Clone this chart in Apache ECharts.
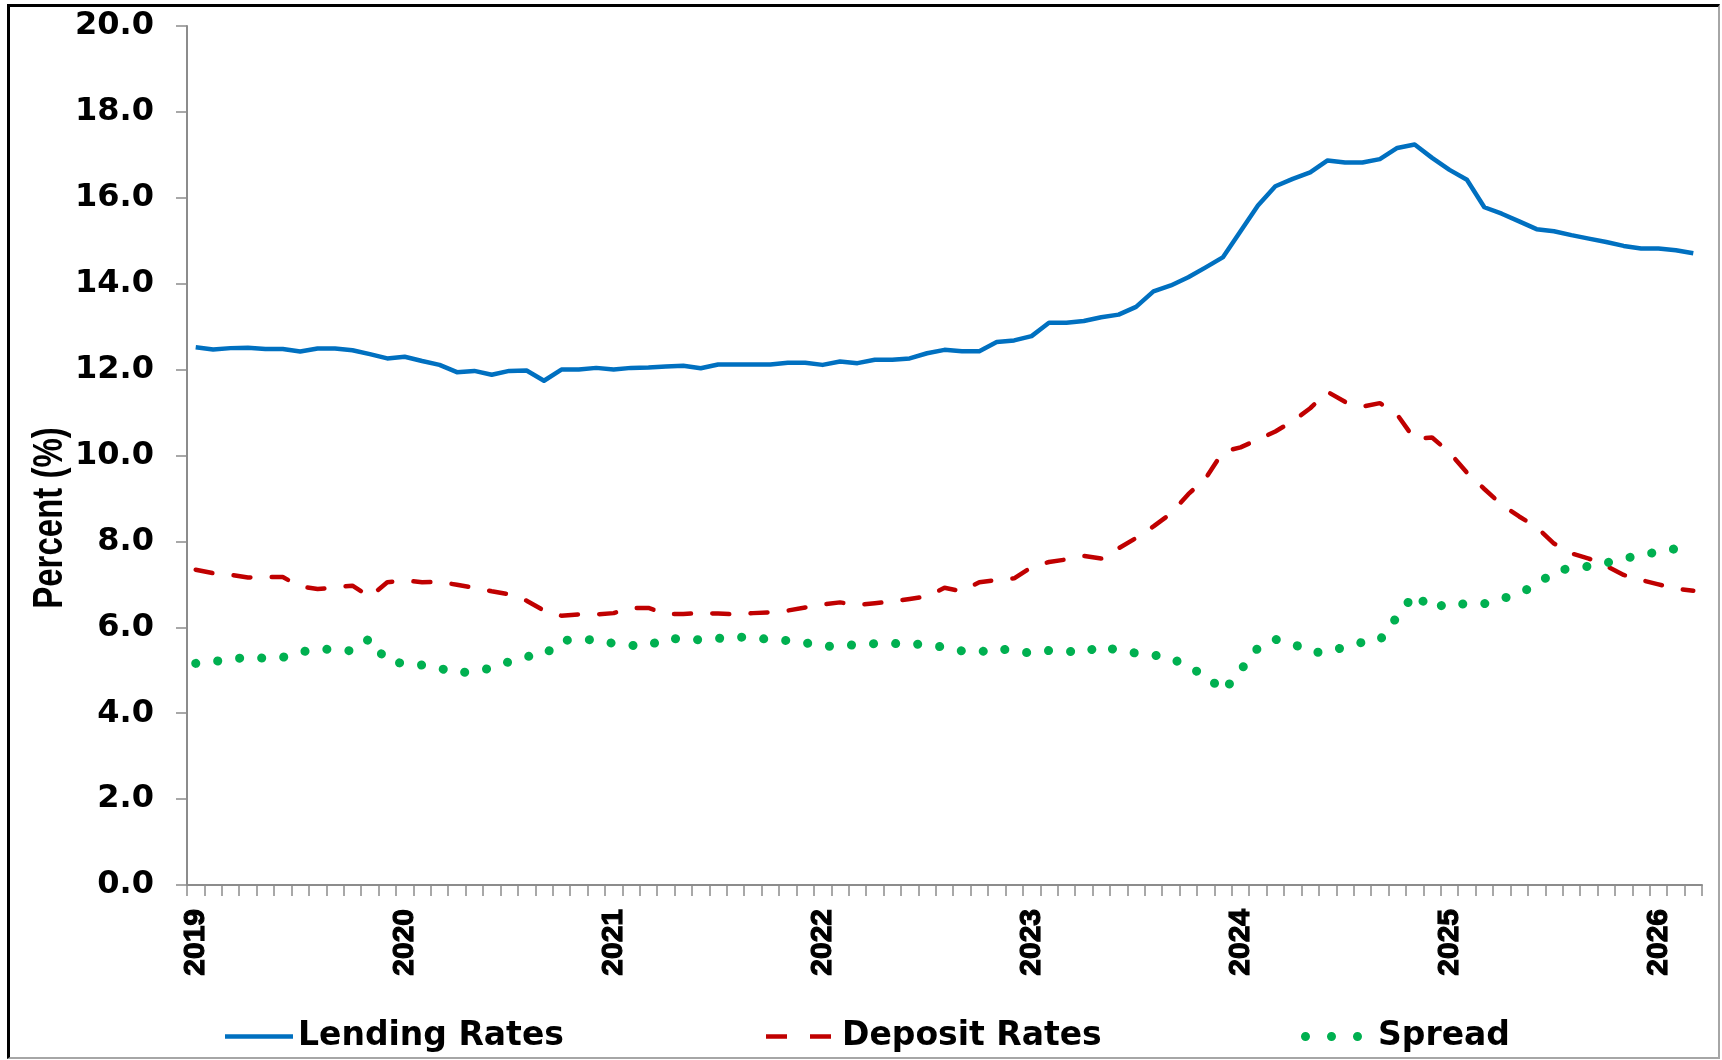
<!DOCTYPE html>
<html>
<head>
<meta charset="utf-8">
<title>Lending Rates, Deposit Rates and Spread</title>
<script src="https://cdn.jsdelivr.net/npm/echarts@6/dist/echarts.min.js"></script>
<style>
  html, body { margin: 0; padding: 0; background: #fff; }
  #chart { width: 1722px; height: 1060px; }
  /* picture frame: black on top/left, grey on right/bottom */
  .frame {
    position: absolute; left: 7px; top: 4px; width: 1713px; height: 1055px;
    box-sizing: border-box; pointer-events: none;
    border-left: 3px solid #000; border-top: 3px solid #000;
    border-right: 2px solid #a6a6a6; border-bottom: 2px solid #a6a6a6;
  }
</style>
</head>
<body>
<div id="chart"></div>
<div class="frame"></div>
<script>
// monthly, Jan 2019 .. Mar 2026
const startYear = 2019
const monthCount = 87
const months = []
for (let i = 0; i < monthCount; i++) {
  const m = (i % 12) + 1
  months.push((startYear + Math.floor(i / 12)) + '-' + (m < 10 ? '0' + m : m))
}

const lendingRates = [
  12.52, 12.47, 12.50, 12.51, 12.48, 12.48, 12.42, 12.49, 12.49, 12.45, 12.36, 12.26,
  12.30, 12.20, 12.11, 11.94, 11.97, 11.88, 11.97, 11.98, 11.74, 12.00, 12.00, 12.04,
  12.00, 12.04, 12.05, 12.07, 12.09, 12.03, 12.12, 12.12, 12.12, 12.12, 12.16, 12.16,
  12.11, 12.19, 12.15, 12.23, 12.23, 12.26, 12.38, 12.46, 12.43, 12.43, 12.64, 12.68,
  12.78, 13.09, 13.09, 13.13, 13.22, 13.28, 13.46, 13.82, 13.96, 14.15, 14.38, 14.62,
  15.22, 15.82, 16.27, 16.44, 16.59, 16.87, 16.82, 16.82, 16.90, 17.16, 17.24, 16.93,
  16.65, 16.42, 15.78, 15.63, 15.45, 15.27, 15.22, 15.13, 15.05, 14.97, 14.88, 14.82,
  14.82, 14.78, 14.71,
]

const depositRates = [
  7.34, 7.26, 7.22, 7.16, 7.17, 7.17, 6.95, 6.89, 6.93, 6.97, 6.71, 7.05,
  7.09, 7.05, 7.06, 6.99, 6.92, 6.84, 6.77, 6.62, 6.39, 6.27, 6.30, 6.30,
  6.33, 6.45, 6.45, 6.31, 6.31, 6.33, 6.32, 6.30, 6.33, 6.35, 6.39, 6.46,
  6.53, 6.58, 6.52, 6.56, 6.60, 6.66, 6.72, 6.92, 6.84, 7.05, 7.10, 7.14,
  7.40, 7.52, 7.58, 7.66, 7.60, 7.84, 8.08, 8.35, 8.65, 9.10, 9.47, 10.09,
  10.19, 10.37, 10.56, 10.80, 11.10, 11.48, 11.25, 11.14, 11.22, 10.95, 10.38, 10.42,
  10.07, 9.60, 9.22, 8.85, 8.58, 8.33, 7.95, 7.72, 7.60, 7.43, 7.22, 7.10,
  7.00, 6.90, 6.85,
]

const spread = [
  5.16, 5.20, 5.26, 5.30, 5.28, 5.30, 5.42, 5.50, 5.48, 5.45, 5.74, 5.20,
  5.16, 5.12, 5.05, 4.93, 4.98, 5.05, 5.20, 5.32, 5.35, 5.70, 5.70, 5.72,
  5.62, 5.58, 5.57, 5.75, 5.72, 5.71, 5.74, 5.78, 5.75, 5.72, 5.69, 5.64,
  5.56, 5.56, 5.60, 5.62, 5.62, 5.63, 5.58, 5.54, 5.45, 5.42, 5.52, 5.44,
  5.40, 5.46, 5.45, 5.40, 5.58, 5.45, 5.40, 5.35, 5.30, 5.05, 4.90, 4.50,
  5.00, 5.52, 5.72, 5.62, 5.42, 5.42, 5.55, 5.65, 5.70, 6.25, 6.78, 6.42,
  6.58, 6.53, 6.55, 6.66, 6.80, 6.98, 7.30, 7.38, 7.42, 7.50, 7.60, 7.68,
  7.76, 7.83, 7.87,
]

const yMin = 0
const yMax = 20
const yStep = 2

const BLUE = '#0070c0'
const RED = '#c00000'
const GREEN = '#00b050'
const AXIS = '#8c8c8c'

const chart = echarts.init(document.getElementById('chart'))

const legendText = {
  color: '#000',
  fontFamily: 'DejaVu Sans',
  fontWeight: 'bold',
  fontSize: 33,
}

// one legend per series so each icon can keep its own size
function legendFor(name, icon, w, h, left, pad) {
  return {
    data: [{ name: name, icon: icon }],
    left: left,
    top: 1015,
    itemWidth: w,
    itemHeight: h,
    itemStyle: { borderWidth: 0 },
    selectedMode: false,
    textStyle: Object.assign({ padding: [0, 0, 0, pad] }, legendText),
  }
}

const dotsIcon = 'path://' +
  'M0,4.5A4.5,4.5,0,1,1,9,4.5A4.5,4.5,0,1,1,0,4.5Z' +
  'M26,4.5A4.5,4.5,0,1,1,35,4.5A4.5,4.5,0,1,1,26,4.5Z' +
  'M52,4.5A4.5,4.5,0,1,1,61,4.5A4.5,4.5,0,1,1,52,4.5Z'

const option = {
  backgroundColor: '#fff',
  animation: false,
  grid: {
    left: 187,
    right: 20,
    top: 26,
    bottom: 175,
    containLabel: false,
  },
  legend: [
    legendFor('Lending Rates', 'path://M0,0H68V4.5H0Z', 68, 4.5, 220, 0),
    legendFor('Deposit Rates', 'path://M0,0H21V4.5H0ZM44,0H65V4.5H44Z', 65, 4.5, 761, 6),
    legendFor('Spread', dotsIcon, 61, 9, 1296, 11),
  ],
  // axis title, a little thicker across to look like the stretched original
  graphic: [{
    type: 'text',
    x: 50,
    y: 518,
    rotation: Math.PI / 2,
    scaleY: 1.3,
    style: {
      text: 'Percent (%)',
      fill: '#000',
      font: 'bold 33px "Liberation Sans", Arial, sans-serif',
      align: 'center',
      verticalAlign: 'middle',
    },
  }],
  xAxis: {
    type: 'category',
    data: months,
    boundaryGap: true,
    axisLine: { show: true, lineStyle: { color: AXIS, width: 2 } },
    axisTick: {
      show: true,
      interval: 0,
      length: 11,
      lineStyle: { color: AXIS, width: 1.5 },
    },
    axisLabel: {
      interval: (index) => index % 12 === 0,
      formatter: (value) => value.slice(0, 4),
      rotate: 90,
      margin: 24,
      color: '#000',
      fontFamily: 'Liberation Sans',
      fontWeight: 'bold',
      fontSize: 30,
      // heavier strokes, the original year labels are stretched sideways
      textBorderColor: '#000',
      textBorderWidth: 1.2,
    },
    splitLine: { show: false },
  },
  yAxis: {
    type: 'value',
    min: yMin,
    max: yMax,
    interval: yStep,
    axisLine: { show: true, lineStyle: { color: AXIS, width: 2 } },
    axisTick: { show: true, length: 11, lineStyle: { color: AXIS, width: 1.5 } },
    axisLabel: {
      formatter: (v) => v.toFixed(1),
      margin: 33,
      color: '#000',
      fontFamily: 'DejaVu Sans',
      fontWeight: 'bold',
      fontSize: 32,
    },
    splitLine: { show: false },
  },
  series: [
    {
      name: 'Lending Rates',
      type: 'line',
      data: lendingRates,
      symbol: 'none',
      color: BLUE,
      lineStyle: { color: BLUE, width: 4.5, join: 'round' },
    },
    {
      name: 'Deposit Rates',
      type: 'line',
      data: depositRates,
      symbol: 'none',
      color: RED,
      lineStyle: { color: RED, width: 4.5, type: [17, 21.3], cap: 'round' },
    },
    {
      name: 'Spread',
      type: 'line',
      data: spread,
      symbol: 'none',
      color: GREEN,
      lineStyle: { color: GREEN, width: 9, type: [0.1, 22], cap: 'round' },
    },
  ],
}

chart.setOption(option)
</script>
</body>
</html>
